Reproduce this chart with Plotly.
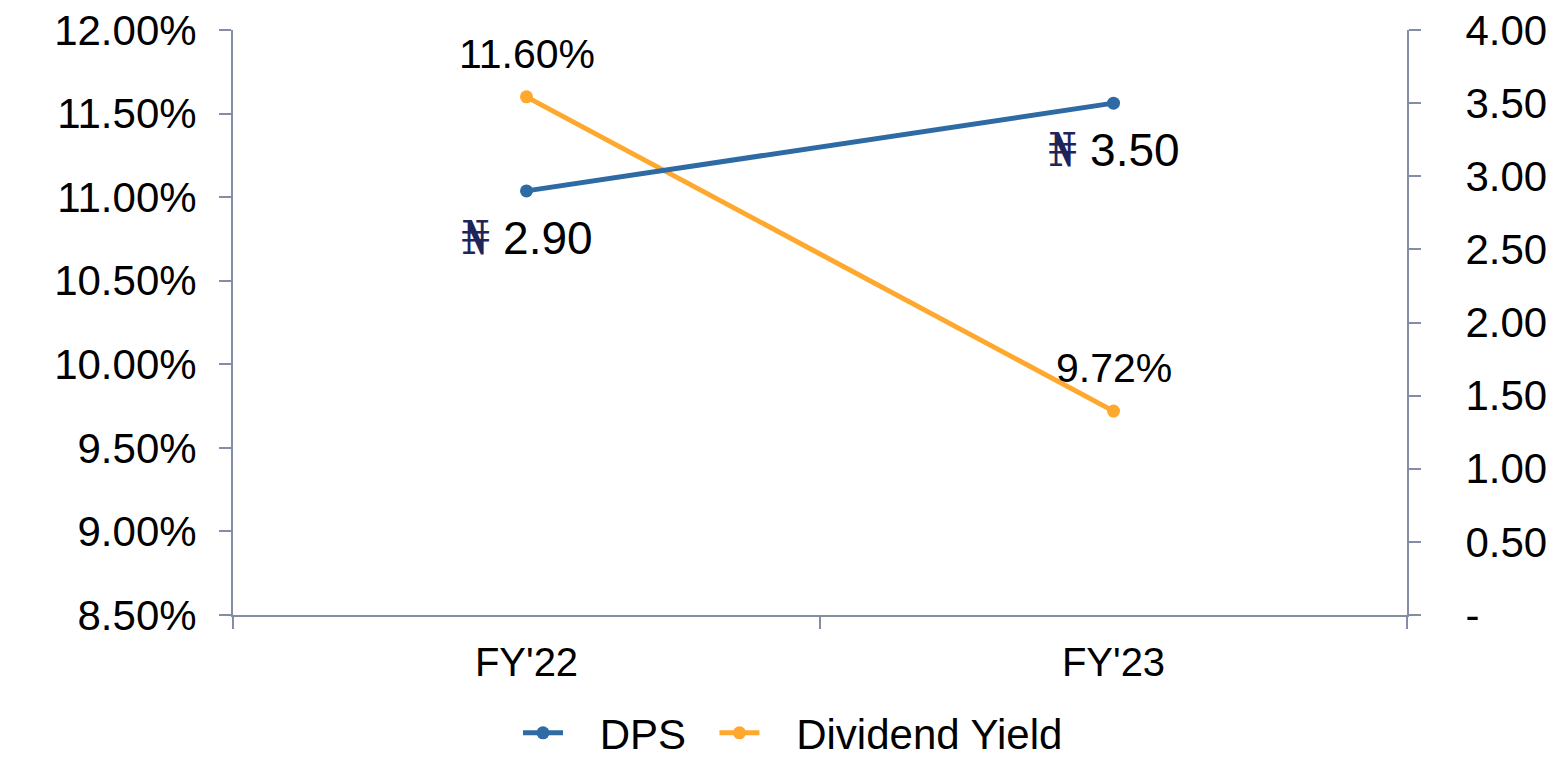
import plotly.graph_objects as go

categories = ["FY'22", "FY'23"]
dps = [2.90, 3.50]
dividend_yield = [0.1160, 0.0972]
dps_labels = ["2.90", "3.50"]
yield_labels = ["11.60%", "9.72%"]
right_tickvals = [0, 0.5, 1.0, 1.5, 2.0, 2.5, 3.0, 3.5, 4.0]
right_ticktext = ["-", "0.50", "1.00", "1.50", "2.00", "2.50", "3.00", "3.50", "4.00"]

BLUE = "#2E6AA3"
ORANGE = "#FFA82E"
AXIS = "#858DA6"
FONT = "Liberation Sans, Arial, sans-serif"
FS = 42
NB = "\u00a0"
LEAD = NB * 2 + "\u2009"

W, H = 1559, 753  # page body has an 8px margin

fig = go.Figure()
fig.add_trace(go.Scatter(
    x=categories, y=dps, name=LEAD + "DPS" + NB * 2, yaxis="y2", mode="lines+markers",
    line=dict(color=BLUE, width=5), marker=dict(size=13, color=BLUE),
))
fig.add_trace(go.Scatter(
    x=categories, y=dividend_yield, name=LEAD + "Dividend Yield", yaxis="y", mode="lines+markers",
    line=dict(color=ORANGE, width=5), marker=dict(size=13, color=ORANGE),
))

annotations = []
for c, v, t in zip(categories, dps, dps_labels):
    annotations.append(dict(
        x=c, y=v, xref="x", yref="y2", showarrow=False, yshift=-47,
        text='<span style="font-family:DejaVu Serif;color:#1F2459">₦</span> ' + t,
        font=dict(family=FONT, size=46, color="black"),
    ))
for c, v, t in zip(categories, dividend_yield, yield_labels):
    annotations.append(dict(
        x=c, y=v, xref="x", yref="y", showarrow=False, yshift=43,
        text=t, font=dict(family=FONT, size=41, color="black"),
    ))

fig.update_layout(
    width=W, height=H,
    margin=dict(l=225, r=160, t=22, b=146, autoexpand=False),
    paper_bgcolor="white", plot_bgcolor="white",
    font=dict(family=FONT, size=FS, color="black"),
    showlegend=True,
    legend=dict(orientation="h", xref="container", x=(793 - 8) / W, xanchor="center",
                yref="container", y=1 - (733 - 8) / H, yanchor="middle",
                font=dict(size=42), itemwidth=40),
    xaxis=dict(
        type="category", range=[-0.5, 1.5], showline=True, linecolor=AXIS, linewidth=2,
        ticks="outside", ticklen=12, tickcolor=AXIS, tickwidth=2, tickson="boundaries",
        showgrid=False, zeroline=False, ticklabelstandoff=11, automargin=False,
        tickfont=dict(size=40),
    ),
    yaxis=dict(
        range=[0.085, 0.12], dtick=0.005, tick0=0.085, tickformat=".2%",
        showline=True, linecolor=AXIS, linewidth=2, ticks="outside", ticklen=12,
        tickcolor=AXIS, tickwidth=2, showgrid=False, zeroline=False, ticklabelstandoff=14,
        automargin=False, ticklabeloverflow="allow",
    ),
    yaxis2=dict(
        range=[0, 4], overlaying="y", side="right", tickvals=right_tickvals,
        ticktext=right_ticktext, showline=True, linecolor=AXIS, linewidth=2,
        ticks="outside", ticklen=12, tickcolor=AXIS, tickwidth=2, showgrid=False,
        zeroline=False, ticklabelstandoff=36, automargin=False, ticklabeloverflow="allow",
    ),
    annotations=annotations,
)

fig.write_html("out.html")
